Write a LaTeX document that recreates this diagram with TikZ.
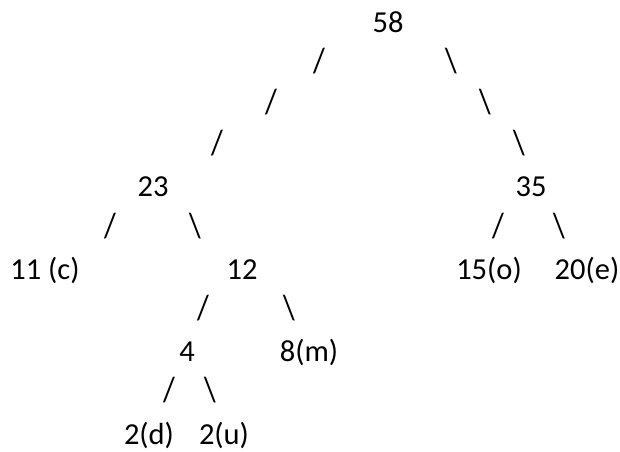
\documentclass[tikz,border=0pt]{standalone}
\usepackage{fontspec}
\setmainfont{Carlito}
\begin{document}
\begin{tikzpicture}[x=1pt,y=-1pt,
  txt/.style={anchor=base,inner sep=0pt,font=\fontsize{30.5}{32}\selectfont},
  sl/.style={txt}]
\useasboundingbox[fill=white] (0,0) rectangle (620,451);
\newcommand{\fsl}{\scalebox{1}[1.15]{/}}
\newcommand{\bsl}{\scalebox{1}[1.15]{\textbackslash}}
% row 0
\node[txt] (n58) at (388,{22+41.2*0+10}) {58};
% row 1
\node[sl] (s1a) at (319,{22+41.2*1+9}) {\fsl};
\node[sl] (s1b) at (451,{22+41.2*1+9}) {\bsl};
% row 2
\node[sl] (s2a) at (271,{22+41.2*2+9}) {\fsl};
\node[sl] (s2b) at (485,{22+41.2*2+9}) {\bsl};
% row 3
\node[sl] (s3a) at (217,{22+41.2*3+9}) {\fsl};
\node[sl] (s3b) at (519,{22+41.2*3+9}) {\bsl};
% row 4
\node[txt] (n23) at (153,{22+41.2*4+10}) {23};
\node[txt] (n35) at (531,{22+41.2*4+10}) {35};
% row 5
\node[sl] (s5a) at (110,{22+41.2*5+9}) {\fsl};
\node[sl] (s5b) at (195,{22+41.2*5+9}) {\bsl};
\node[sl] (s5c) at (498,{22+41.2*5+9}) {\fsl};
\node[sl] (s5d) at (559,{22+41.2*5+9}) {\bsl};
% row 6
\node[txt] (n11) at (45,{22+41.2*6+10}) {11 (c)};
\node[txt] (n12) at (242,{22+41.2*6+10}) {12};
\node[txt] (n15) at (489,{22+41.2*6+10}) {15(o)};
\node[txt] (n20) at (587,{22+41.2*6+10}) {20(e)};
% row 7
\node[sl] (s7a) at (203,{22+41.2*7+9}) {\fsl};
\node[sl] (s7b) at (289,{22+41.2*7+9}) {\bsl};
% row 8
\node[txt] (n4) at (187,{22+41.2*8+10}) {4};
\node[txt] (n8) at (309,{22+41.2*8+10}) {8(m)};
% row 9
\node[sl] (s9a) at (169,{22+41.2*9+9}) {\fsl};
\node[sl] (s9b) at (210,{22+41.2*9+9}) {\bsl};
% row 10
\node[txt] (n2d) at (149,{22+41.2*10+10}) {2(d)};
\node[txt] (n2u) at (224,{22+41.2*10+10}) {2(u)};
\end{tikzpicture}
\end{document}
